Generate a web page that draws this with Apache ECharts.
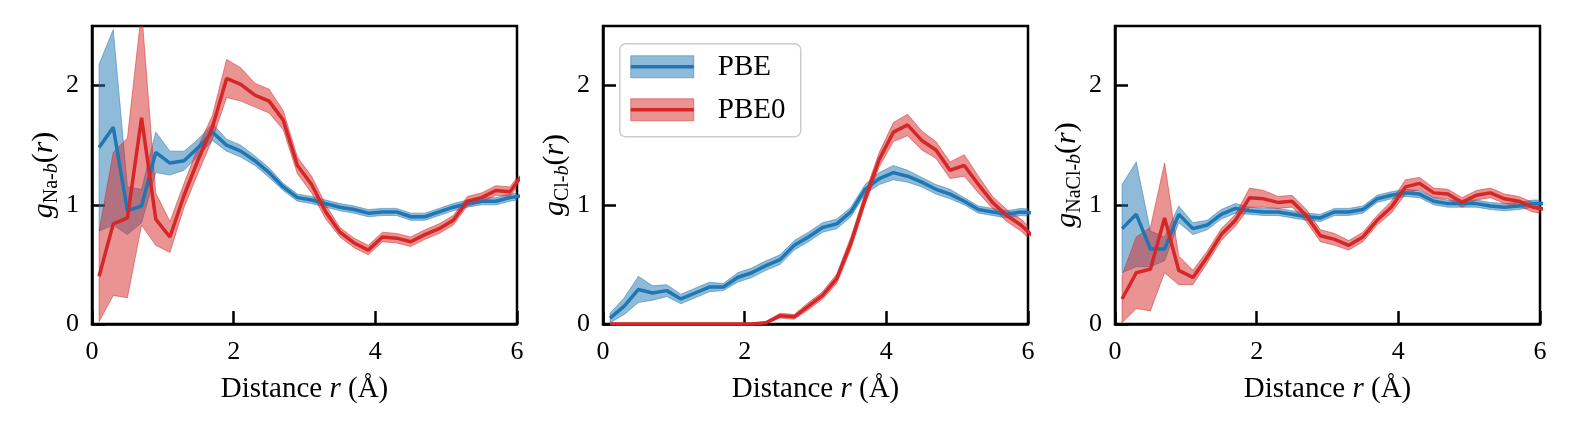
<!DOCTYPE html>
<html>
<head>
<meta charset="utf-8">
<script src="https://cdn.jsdelivr.net/npm/echarts@6/dist/echarts.min.js"></script>
<style>
  html, body { margin: 0; padding: 0; background: #fff; }
  #main { width: 1577px; height: 430px; }
</style>
</head>
<body>
<div id="main"></div>
<script>
// r 网格（Å）
var rVals = [0.1, 0.3, 0.5, 0.7, 0.9, 1.1, 1.3, 1.5, 1.7, 1.9, 2.1, 2.3, 2.5, 2.7, 2.9, 3.1,
  3.3, 3.5, 3.7, 3.9, 4.1, 4.3, 4.5, 4.7, 4.9, 5.1, 5.3, 5.5, 5.7, 5.9, 6.1];
var xTicks = [0, 2, 4, 6];
var yTicks = [0, 1, 2];

// g_Na-b(r)
var naPbe = [1.48, 1.65, 0.95, 0.99, 1.44, 1.35, 1.37, 1.48, 1.61, 1.50, 1.45, 1.37, 1.27, 1.15, 1.06, 1.04,
  1.01, 0.98, 0.96, 0.93, 0.94, 0.94, 0.90, 0.90, 0.94, 0.98, 1.01, 1.03, 1.03, 1.06, 1.08];
var naPbeErr = [0.70, 0.82, 0.20, 0.14, 0.17, 0.10, 0.08, 0.07, 0.07, 0.05, 0.05, 0.04, 0.04, 0.03, 0.03, 0.03,
  0.03, 0.03, 0.03, 0.03, 0.03, 0.03, 0.03, 0.03, 0.03, 0.03, 0.03, 0.03, 0.03, 0.03, 0.03];
var naPbe0 = [0.40, 0.84, 0.89, 1.73, 0.88, 0.73, 1.08, 1.38, 1.65, 2.06, 2.01, 1.92, 1.87, 1.71, 1.33, 1.17,
  0.94, 0.77, 0.68, 0.62, 0.73, 0.72, 0.69, 0.75, 0.80, 0.87, 1.03, 1.06, 1.12, 1.11, 1.27];
var naPbe0Err = [0.38, 0.60, 0.67, 0.90, 0.22, 0.13, 0.10, 0.11, 0.10, 0.16, 0.14, 0.10, 0.10, 0.08, 0.07, 0.07,
  0.06, 0.04, 0.04, 0.04, 0.04, 0.04, 0.04, 0.04, 0.04, 0.04, 0.04, 0.04, 0.04, 0.04, 0.04];

// g_Cl-b(r)
var clPbe = [0.05, 0.15, 0.29, 0.26, 0.28, 0.21, 0.26, 0.31, 0.31, 0.39, 0.43, 0.49, 0.54, 0.66, 0.73, 0.81,
  0.84, 0.94, 1.13, 1.22, 1.27, 1.24, 1.19, 1.13, 1.09, 1.03, 0.96, 0.94, 0.92, 0.94, 0.93];
var clPbeErr = [0.04, 0.07, 0.11, 0.06, 0.05, 0.04, 0.04, 0.04, 0.03, 0.04, 0.04, 0.04, 0.04, 0.04, 0.04, 0.04,
  0.04, 0.04, 0.04, 0.05, 0.06, 0.05, 0.04, 0.04, 0.04, 0.03, 0.03, 0.03, 0.03, 0.03, 0.03];
var clPbe0 = [0, 0, 0, 0, 0, 0, 0, 0, 0, 0, 0, 0.01, 0.07, 0.06, 0.15, 0.24,
  0.38, 0.68, 1.05, 1.38, 1.61, 1.67, 1.54, 1.46, 1.29, 1.33, 1.17, 1.02, 0.91, 0.83, 0.72];
var clPbe0Err = [0, 0, 0, 0, 0, 0, 0, 0, 0, 0, 0, 0.01, 0.02, 0.02, 0.03, 0.03,
  0.04, 0.05, 0.05, 0.06, 0.08, 0.09, 0.08, 0.07, 0.07, 0.09, 0.07, 0.05, 0.05, 0.05, 0.05];

// g_NaCl-b(r)
var naclPbe = [0.80, 0.92, 0.63, 0.63, 0.92, 0.80, 0.83, 0.92, 0.97, 0.95, 0.94, 0.94, 0.92, 0.90, 0.89, 0.94,
  0.94, 0.96, 1.05, 1.08, 1.10, 1.09, 1.03, 1.01, 1.01, 1.01, 0.99, 0.98, 0.99, 1.01, 1.01];
var naclPbeErr = [0.37, 0.44, 0.15, 0.10, 0.07, 0.05, 0.04, 0.04, 0.04, 0.03, 0.03, 0.03, 0.03, 0.03, 0.03, 0.03,
  0.03, 0.03, 0.03, 0.03, 0.03, 0.03, 0.03, 0.03, 0.03, 0.03, 0.03, 0.03, 0.03, 0.03, 0.03];
var naclPbe0 = [0.21, 0.43, 0.46, 0.89, 0.45, 0.39, 0.56, 0.75, 0.87, 1.06, 1.05, 1.02, 1.03, 0.91, 0.74, 0.71,
  0.66, 0.73, 0.87, 0.98, 1.15, 1.18, 1.10, 1.09, 1.02, 1.08, 1.10, 1.05, 1.03, 0.98, 0.96];
var naclPbe0Err = [0.20, 0.30, 0.35, 0.46, 0.12, 0.06, 0.05, 0.05, 0.05, 0.08, 0.07, 0.05, 0.05, 0.05, 0.05, 0.05,
  0.04, 0.04, 0.04, 0.05, 0.06, 0.05, 0.04, 0.04, 0.04, 0.04, 0.04, 0.04, 0.04, 0.04, 0.04];

var panels = [
  {sub: 'Na-', pbe: naPbe, pbeErr: naPbeErr, pbe0: naPbe0, pbe0Err: naPbe0Err},
  {sub: 'Cl-', pbe: clPbe, pbeErr: clPbeErr, pbe0: clPbe0, pbe0Err: clPbe0Err},
  {sub: 'NaCl-', pbe: naclPbe, pbeErr: naclPbeErr, pbe0: naclPbe0, pbe0Err: naclPbe0Err}
];

var BLUE = '#1f77b4', RED = '#d62728';
var BLUE_A = 'rgba(31,119,180,0.5)', RED_A = 'rgba(214,39,40,0.5)';
var FONT = '"Liberation Serif", "DejaVu Serif", serif';
var gridLeft = [92, 603, 1115];

//误差带：用 custom 多边形画 mean ± err
function band(idx, mean, err, fill) {
  return {
    type: 'custom', xAxisIndex: idx, yAxisIndex: idx, clip: true, silent: true,
    data: rVals.map(function (x, i) { return [x, mean[i]]; }),
    renderItem: function (params, api) {
      if (params.dataIndex !== 0) return null;
      var pts = [];
      for (var i = 0; i < rVals.length; i++) pts.push(api.coord([rVals[i], mean[i] + err[i]]));
      for (var j = rVals.length - 1; j >= 0; j--) pts.push(api.coord([rVals[j], mean[j] - err[j]]));
      return {
        type: 'polygon', shape: {points: pts},
        style: {fill: fill, stroke: fill, lineWidth: 1}
      };
    }
  };
}

function line(idx, mean, color) {
  return {
    type: 'line', xAxisIndex: idx, yAxisIndex: idx, showSymbol: false, silent: true,
    data: rVals.map(function (x, i) { return [x, mean[i]]; }),
    lineStyle: {color: color, width: 3.5}, itemStyle: {color: color}
  };
}

var grids = [], xAxes = [], yAxes = [], series = [];
panels.forEach(function (p, k) {
  grids.push({left: gridLeft[k], top: 26, width: 425, height: 298,
    show: true, borderColor: '#000', borderWidth: 2.5, backgroundColor: 'transparent'});
  xAxes.push({
    type: 'value', gridIndex: k, min: 0, max: 6, interval: 2,
    name: 'Distance {i|r} (Å)', nameLocation: 'middle', nameGap: 51,
    nameTextStyle: {fontFamily: FONT, fontSize: 29, color: '#000',
      rich: {i: {fontFamily: FONT, fontSize: 29, fontStyle: 'italic', color: '#000'}}},
    axisLine: {show: true, lineStyle: {color: '#000', width: 2.5}},
    axisTick: {inside: true, length: 13, lineStyle: {color: '#000', width: 2.5}, customValues: xTicks},
    axisLabel: {fontFamily: FONT, fontSize: 26, color: '#000', margin: 15, customValues: xTicks},
    splitLine: {show: false}
  });
  yAxes.push({
    type: 'value', gridIndex: k, min: 0, max: 2.5,
    name: '{g|g}{s|' + p.sub + '}{si|b}{n|(}{i|r}{n|)}', nameLocation: 'middle', nameGap: 30,
    nameRotate: 90,
    nameTextStyle: {fontFamily: FONT, color: '#000', rich: {
      g: {fontFamily: FONT, fontSize: 30, fontStyle: 'italic', color: '#000', lineHeight: 36},
      s: {fontFamily: FONT, fontSize: 20, color: '#000', verticalAlign: 'bottom', lineHeight: 36},
      si: {fontFamily: FONT, fontSize: 20, fontStyle: 'italic', color: '#000', verticalAlign: 'bottom', lineHeight: 36},
      n: {fontFamily: FONT, fontSize: 30, color: '#000', lineHeight: 36},
      i: {fontFamily: FONT, fontSize: 30, fontStyle: 'italic', color: '#000', lineHeight: 36}
    }},
    axisLine: {show: true, lineStyle: {color: '#000', width: 2.5}},
    axisTick: {inside: true, length: 13, lineStyle: {color: '#000', width: 2.5}, customValues: yTicks},
    axisLabel: {fontFamily: FONT, fontSize: 26, color: '#000', margin: 13, customValues: yTicks},
    splitLine: {show: false}
  });
  series.push(band(k, p.pbe, p.pbeErr, BLUE_A));
  series.push(line(k, p.pbe, BLUE));
  series.push(band(k, p.pbe0, p.pbe0Err, RED_A));
  series.push(line(k, p.pbe0, RED));
});

// 图例（放在中间子图左上角）
var legend = {
  type: 'group', left: 619, top: 43, children: [
    {type: 'rect', shape: {x: 0, y: 0, width: 181, height: 93, r: 6},
      style: {fill: 'rgba(255,255,255,0.8)', stroke: '#cccccc', lineWidth: 1.5}},
    {type: 'rect', shape: {x: 11, y: 12, width: 63, height: 22}, style: {fill: BLUE_A, stroke: BLUE_A, lineWidth: 1}},
    {type: 'line', shape: {x1: 11, y1: 23, x2: 74, y2: 23}, style: {stroke: BLUE, lineWidth: 3.5}},
    {type: 'text', x: 98, y: 24, style: {text: 'PBE', font: '29px ' + FONT, fill: '#000', verticalAlign: 'middle'}},
    {type: 'rect', shape: {x: 11, y: 55, width: 63, height: 22}, style: {fill: RED_A, stroke: RED_A, lineWidth: 1}},
    {type: 'line', shape: {x1: 11, y1: 66, x2: 74, y2: 66}, style: {stroke: RED, lineWidth: 3.5}},
    {type: 'text', x: 98, y: 67, style: {text: 'PBE0', font: '29px ' + FONT, fill: '#000', verticalAlign: 'middle'}}
  ]
};

var chart = echarts.init(document.getElementById('main'), null, {renderer: 'canvas'});
chart.setOption({
  animation: false,
  backgroundColor: '#fff',
  grid: grids,
  xAxis: xAxes,
  yAxis: yAxes,
  series: series,
  graphic: [legend]
});
</script>
</body>
</html>
